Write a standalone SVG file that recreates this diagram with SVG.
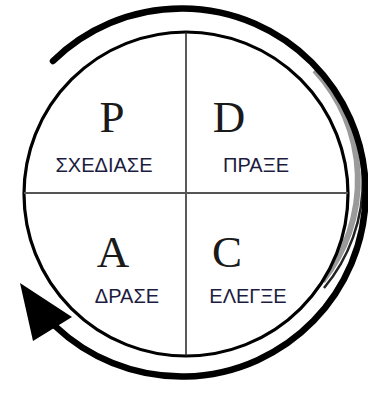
<svg xmlns="http://www.w3.org/2000/svg" width="368" height="394" viewBox="0 0 368 394">
<style>
.big{font-family:"Liberation Serif","Times New Roman",serif;font-size:45px;fill:#1a1a1a;text-anchor:middle}
.lbl{font-family:"Liberation Sans",Arial,sans-serif;font-size:20px;fill:#1c1c40;text-anchor:middle}
</style>
<rect width="368" height="394" fill="#fff"/>
<g id="cycle">
<path d="M 314.8 70.1 A 162 162 0 0 1 322.5 281.2" fill="none" stroke="#9a9a9a" stroke-width="6"/>
<path d="M 317 66 A 167 167 0 0 1 324 288" fill="none" stroke="#222" stroke-width="2.5"/>
<circle cx="186" cy="194" r="162" fill="#fff" stroke="#000" stroke-width="3.2"/>
</g>
<g id="dividers" stroke="#222">
<line x1="186" y1="32" x2="186" y2="356" stroke-width="1.5"/>
<line x1="24" y1="193" x2="348" y2="193" stroke="#555" stroke-width="2"/>
</g>
<g id="connectors">
<path d="M 53 61 A 184 184 0 1 1 55 326" fill="none" stroke="#000" stroke-width="6.5" stroke-linecap="round"/>
<polygon points="20,283 72,317 33,341" fill="#000"/>
</g>
<g id="plan"><text class="big" x="112" y="132">P</text><text class="lbl" x="104" y="172">ΣΧΕΔΙΑΣΕ</text></g>
<g id="do"><text class="big" x="229" y="132">D</text><text class="lbl" x="256" y="172">ΠΡΑΞΕ</text></g>
<g id="act"><text class="big" x="113" y="267">A</text><text class="lbl" x="127" y="303">ΔΡΑΣΕ</text></g>
<g id="check"><text class="big" x="227" y="267">C</text><text class="lbl" x="248" y="303">ΕΛΕΓΞΕ</text></g>
</svg>
